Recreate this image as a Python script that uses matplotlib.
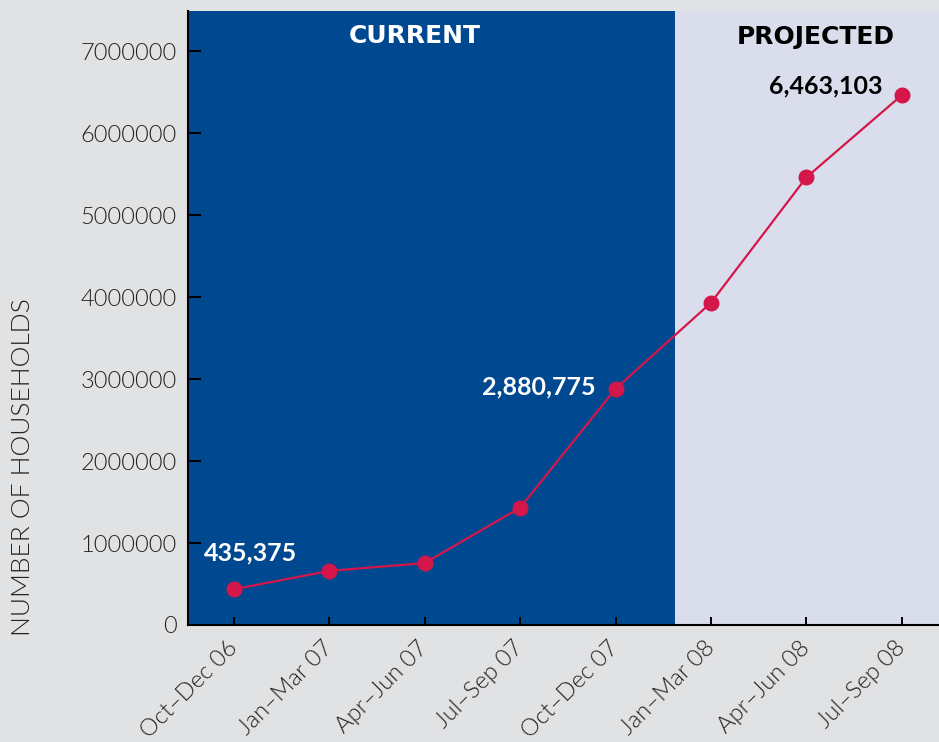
import matplotlib.pyplot as plt
import matplotlib.transforms as mtransforms

# Quartalsdaten
quarters = ["Oct–Dec 06", "Jan–Mar 07", "Apr–Jun 07", "Jul–Sep 07",
            "Oct–Dec 07", "Jan–Mar 08", "Apr–Jun 08", "Jul–Sep 08"]
households = [435375, 660000, 755000, 1430000,
              2880775, 3930000, 5460000, 6463103]
y_ticks = [0, 1000000, 2000000, 3000000, 4000000, 5000000, 6000000, 7000000]
n_current = 5  # erste fuenf Quartale sind "aktuell"

BG = "#e1e2e4"
CURRENT_COLOR = "#004990"
PROJECTED_COLOR = "#dadeec"
LINE_COLOR = "#d4164a"
TEXT_COLOR = "#222222"

fig = plt.figure(figsize=(9.39, 7.42), dpi=100, facecolor=BG)
ax = fig.add_axes([0.2002, 0.1577, 0.7998, 0.8275])
ax.set_facecolor(BG)

x = list(range(len(quarters)))
x_left, x_right = -0.48, 7.39
split = n_current - 0.38

ax.axvspan(x_left, split, color=CURRENT_COLOR, zorder=0, lw=0)
ax.axvspan(split, x_right, color=PROJECTED_COLOR, zorder=0, lw=0)

ax.plot(x, households, color=LINE_COLOR, lw=1.6, marker="o",
        markersize=10.5, zorder=3)

ax.set_xlim(x_left, x_right)
ax.set_ylim(0, 7490000)
ax.set_yticks(y_ticks)
ax.set_yticklabels([str(v) for v in y_ticks], fontsize=17, color=TEXT_COLOR,
                   family="Lato", fontweight=300)
ax.set_xticks(x)
ax.set_xticklabels(quarters, rotation=45, ha="right", va="center",
                   rotation_mode="anchor", fontsize=17, color=TEXT_COLOR,
                   family="Lato", fontweight=300)
ax.tick_params(axis="y", direction="in", length=9.5, width=1.4,
               colors="black", labelcolor=TEXT_COLOR, pad=8)
ax.tick_params(axis="x", direction="in", length=6, width=1.4,
               colors="black", labelcolor=TEXT_COLOR, pad=14)

for side in ["top", "right"]:
    ax.spines[side].set_visible(False)
for side in ["left", "bottom"]:
    ax.spines[side].set_color("black")
    ax.spines[side].set_linewidth(1.5)

# Ueberschriften der Bereiche
trans = mtransforms.blended_transform_factory(ax.transData, ax.transAxes)
ax.text(1.9, 0.959, "CURRENT", transform=trans, ha="center", va="center",
        color="white", fontsize=18, fontweight="bold", family="DejaVu Sans")
ax.text(6.1, 0.957, "PROJECTED", transform=trans, ha="center", va="center",
        color="black", fontsize=18, fontweight="bold", family="DejaVu Sans")

# Werte beschriften
label_style = dict(textcoords="offset points", va="center", fontsize=18,
                   fontweight="bold", family="Lato")
ax.annotate("435,375", (x[0], households[0]), xytext=(12, 26),
            ha="center", color="white", **label_style)
ax.annotate("2,880,775", (x[4], households[4]), xytext=(-14, 1.5),
            ha="right", color="white", **label_style)
ax.annotate("6,463,103", (x[7], households[7]), xytext=(-55, 7),
            ha="center", color="black", **label_style)

fig.text(0.024, 0.37, "NUMBER OF HOUSEHOLDS", rotation=90, ha="center",
         va="center", fontsize=19, color=TEXT_COLOR, family="Lato",
         fontweight=300)

fig.savefig("out.png", dpi=100, facecolor=BG)
